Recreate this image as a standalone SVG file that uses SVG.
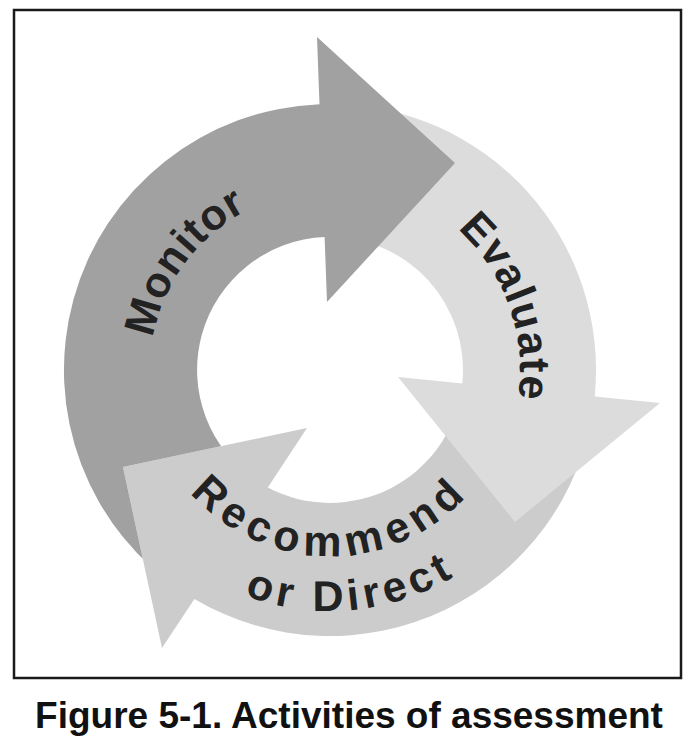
<svg xmlns="http://www.w3.org/2000/svg" width="696" height="750" viewBox="0 0 696 750">
  <style>
    .lbl { font-family: "Liberation Sans", Arial, sans-serif; font-weight: bold; font-size: 43px; fill: #222222; }
    .cap { font-family: "Liberation Sans", Arial, sans-serif; font-weight: bold; font-size: 37px; fill: #111111; }
  </style>
  <defs>
    <path id="pMonitor" d="M179.9 469.3 A180 180 0 0 1 381.1 197.4"/>
    <path id="pEvaluate" d="M331.7 180 A190 190 0 0 1 450.9 516.6"/>
    <path id="pRecommend" d="M146.8 402.3 A186 186 0 0 0 513.2 402.3"/>
    <path id="pDirect" d="M97.9 434.8 A241 241 0 0 0 570.3 388.5"/>
    <clipPath id="clipMonitor">
      <path clip-rule="evenodd" d="M0 0H696V750H0Z M307 428 L162 648 L123 467 Z"/>
    </clipPath>
  </defs>
  <rect id="frame" x="14" y="10" width="667" height="668" fill="#ffffff" stroke="#1a1a1a" stroke-width="2.5"/>
  <g id="recommend">
    <path fill="#cccccc" d="M593.4 407 A266 266 0 0 1 194.4 598.9 L162 648 L123 467 L307 428 L267.8 487.5 A133 133 0 0 0 461.7 388.5 Z"/>
    <text class="lbl" letter-spacing="6.5"><textPath href="#pRecommend" startOffset="50%" text-anchor="middle">Recommend</textPath></text>
    <text class="lbl" letter-spacing="5"><textPath href="#pDirect" startOffset="50%" text-anchor="middle">or Direct</textPath></text>
  </g>
  <g id="evaluate">
    <path fill="#dcdcdc" d="M330 104 A266 266 0 0 1 594.7 396.5 L660 403 L515 522 L398 377 L462.3 383.4 A133 133 0 0 0 330 237 Z"/>
    <text class="lbl" letter-spacing="1.5"><textPath href="#pEvaluate" startOffset="50%" text-anchor="middle">Evaluate</textPath></text>
  </g>
  <g id="monitor" clip-path="url(#clipMonitor)">
    <path fill="#a1a1a1" d="M185.1 593.1 A266 266 0 0 1 319.5 104.2 L317 37 L455 163 L327 302 L324.6 237.1 A133 133 0 0 0 257.6 481.5 Z"/>
    <text class="lbl" letter-spacing="1"><textPath href="#pMonitor" startOffset="50%" text-anchor="middle">Monitor</textPath></text>
  </g>
  <g id="connectors"/>
  <text id="caption" class="cap" x="349" y="728" text-anchor="middle">Figure 5-1. Activities of assessment</text>
</svg>
